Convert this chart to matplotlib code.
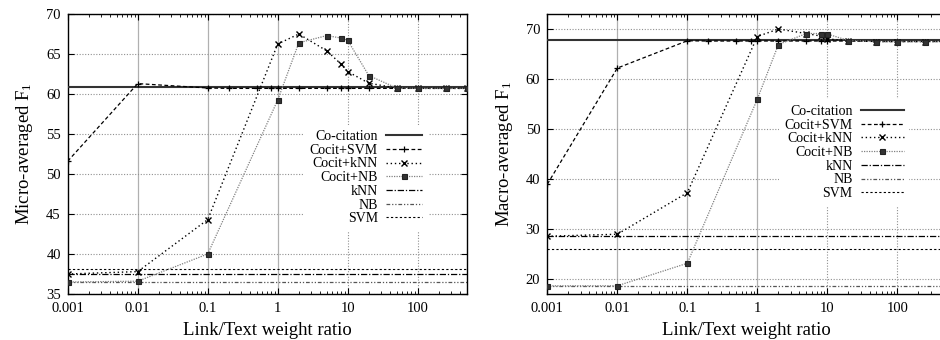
import numpy as np
import matplotlib
matplotlib.use('Agg')
import matplotlib.pyplot as plt
from matplotlib.ticker import FixedLocator, LogLocator, NullFormatter

plt.rcParams['font.family'] = ['Liberation Serif', 'DejaVu Serif']
plt.rcParams['mathtext.fontset'] = 'custom'
plt.rcParams['mathtext.rm'] = 'Liberation Serif'
plt.rcParams['mathtext.it'] = 'Liberation Serif:italic'

# x positions (link/text weight ratio)
x_svm = [0.001, 0.01, 0.1, 0.2, 0.5, 0.8, 1, 2, 5, 8, 10, 20, 50, 100, 250, 500]
x_knn = [0.001, 0.01, 0.1, 1, 2, 5, 8, 10, 20, 50, 100, 250, 500]
x_nb = [0.001, 0.01, 0.1, 1, 2, 5, 8, 10, 20, 50, 100, 250, 500]

# micro-averaged F1
micro_cocit = 60.85
micro_cocit_svm = [51.6, 61.3, 60.75, 60.7, 60.7, 60.7, 60.7, 60.7, 60.7, 60.7, 60.7, 60.7, 60.7, 60.7, 60.7, 60.7]
micro_cocit_knn = [37.5, 37.8, 44.3, 66.25, 67.5, 65.4, 63.75, 62.8, 61.35, 60.75, 60.7, 60.7, 60.7]
micro_cocit_nb = [36.5, 36.6, 40.0, 59.25, 66.4, 67.3, 67.0, 66.7, 62.3, 60.75, 60.7, 60.7, 60.7]
micro_knn = 37.5
micro_nb = 36.5
micro_svm = 38.1

# macro-averaged F1
macro_cocit = 67.85
macro_cocit_svm = [39.0, 62.2, 67.65, 67.6, 67.6, 67.6, 67.6, 67.6, 67.6, 67.6, 67.6, 67.6, 67.5, 67.5, 67.5, 67.5]
macro_cocit_knn = [28.6, 29.0, 37.3, 68.5, 70.0, 69.1, 68.6, 68.0, 67.7, 67.5, 67.5, 67.5, 67.5]
macro_cocit_nb = [18.7, 18.7, 23.2, 56.0, 66.9, 69.1, 69.1, 69.0, 67.7, 67.5, 67.5, 67.5, 67.5]
macro_knn = 28.6
macro_nb = 18.7
macro_svm = 26.1

labels = ['Co-citation', 'Cocit+SVM', 'Cocit+kNN', 'Cocit+NB', 'kNN', 'NB', 'SVM']
decades = [0.001, 0.01, 0.1, 1, 10, 100]
decade_labels = ['0.001', '0.01', '0.1', '1', '10', '100']

W, H = 940, 340
fig = plt.figure(figsize=(W / 100, H / 100), dpi=100)


def panel(rect, ylim, yticks, ylabel, cocit, c_svm, c_knn, c_nb, knn, nb, svm, leg_anchor, hlen):
    ax = fig.add_axes(rect)
    ax.set_xscale('log')
    ax.set_xlim(0.001, 500)
    ax.set_ylim(*ylim)

    # grid
    for d in decades[1:]:
        if d < 5:
            ax.axvline(d, color='#b0b0b0', lw=0.9, ls='-', zorder=0)
        else:
            ax.axvline(d, color='#909090', lw=0.8, ls=(0, (1, 1.5)), zorder=0)
    for v in yticks:
        ax.axhline(v, color='#909090', lw=0.8, ls=(0, (1, 1.5)), zorder=0)

    ax.axhline(cocit, color='#333333', lw=1.5, ls='-', label=labels[0], zorder=3)
    ax.plot(x_svm, c_svm, color='black', lw=0.9, ls=(0, (3, 2)), marker='+',
            ms=5, mew=0.9, label=labels[1], zorder=4)
    ax.plot(x_knn, c_knn, color='black', lw=1.0, ls=(0, (1, 2)), marker='x',
            ms=4, mew=1.0, label=labels[2], zorder=4)
    ax.plot(x_nb, c_nb, color='#808080', lw=0.9, ls=(0, (1, 1)), marker='s',
            ms=3.6, mew=0.8, mec='#222222', mfc='#333333', label=labels[3], zorder=4)
    ax.axhline(knn, color='black', lw=0.9, ls=(0, (5, 1.5, 1, 1.5)), label=labels[4], zorder=2)
    ax.axhline(nb, color='#555555', lw=0.9, ls=(0, (3, 1.5, 1, 1.5, 1, 1.5)), label=labels[5], zorder=2)
    ax.axhline(svm, color='black', lw=0.8, ls=(0, (2, 2)), label=labels[6], zorder=2)

    ax.xaxis.set_major_locator(FixedLocator(decades))
    ax.set_xticklabels(decade_labels)
    ax.xaxis.set_minor_locator(LogLocator(base=10, subs=np.arange(2, 10)))
    ax.xaxis.set_minor_formatter(NullFormatter())
    ax.set_yticks(yticks)
    ax.tick_params(which='both', direction='in', top=True, right=True, labelsize=10.5)
    ax.tick_params(which='major', length=4, width=0.8)
    ax.tick_params(which='minor', length=2, width=0.6)
    ax.tick_params(axis='x', pad=6)
    ax.tick_params(axis='y', pad=5)
    for s in ax.spines.values():
        s.set_linewidth(1.0)

    ax.set_xlabel('Link/Text weight ratio', fontsize=13.5, labelpad=5)
    ax.set_ylabel(ylabel, fontsize=13.5, labelpad=8)

    leg = ax.legend(loc='upper right', bbox_to_anchor=leg_anchor, markerfirst=False,
                    frameon=True, fancybox=False, framealpha=1, edgecolor='none',
                    facecolor='white', fontsize=10, handlelength=hlen,
                    handletextpad=0.6, labelspacing=0.05, borderpad=0.4)
    leg.set_zorder(10)
    return ax


bottom = 46 / H
height = 280 / H
width = 399 / W

panel([67.7 / W, bottom, width, height], (35, 70), [35, 40, 45, 50, 55, 60, 65, 70],
      'Micro-averaged F$_1$', micro_cocit, micro_cocit_svm, micro_cocit_knn,
      micro_cocit_nb, micro_knn, micro_nb, micro_svm, (0.92, 0.63), 2.6)

panel([547.3 / W, bottom, width, height], (17.06, 73.0), [20, 30, 40, 50, 60, 70],
      'Macro-averaged F$_1$', macro_cocit, macro_cocit_svm, macro_cocit_knn,
      macro_cocit_nb, macro_knn, macro_nb, macro_svm, (0.925, 0.72), 3.1)

fig.savefig('out.png', dpi=100)
